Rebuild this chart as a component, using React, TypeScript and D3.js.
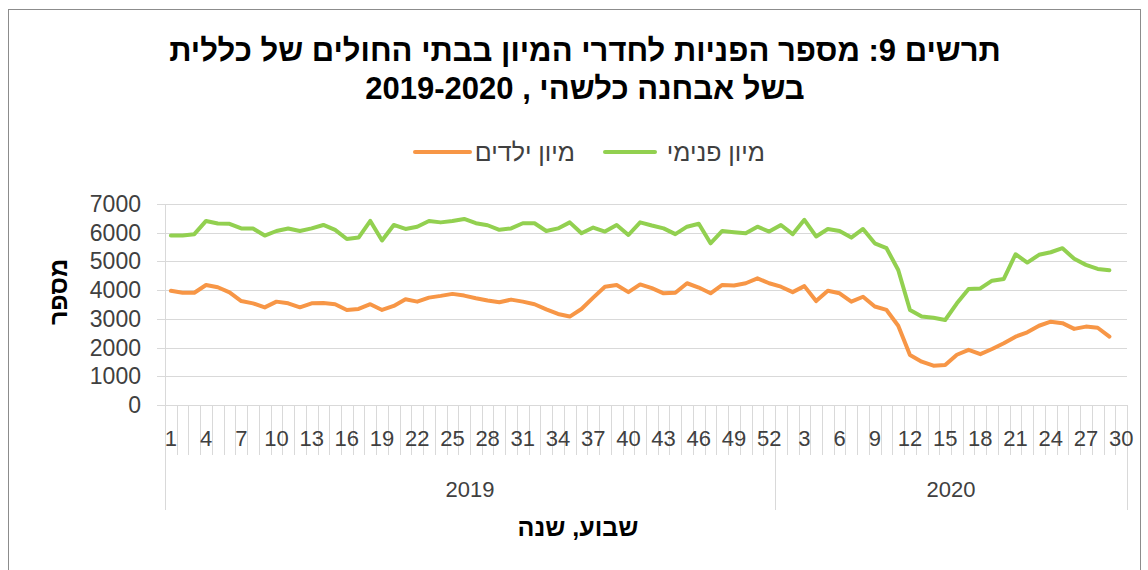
import * as d3 from 'd3';
import React, { useEffect, useRef } from 'react';

// weeks: 52 weeks of 2019 then 30 weeks of 2020
const weeks2019 = d3.range(1, 53);
const weeks2020 = d3.range(1, 31);
const years = ['2019', '2020'];

// מיון פנימי (green)
const internalER = [
  5900, 5900, 5950, 6410, 6320, 6310, 6150, 6145, 5900, 6060,
  6145, 6060, 6150, 6270, 6100, 5780, 5830, 6410, 5730, 6270,
  6130, 6210, 6410, 6360, 6410, 6480, 6330, 6260, 6100, 6150,
  6330, 6330, 6060, 6150, 6360, 5980, 6180, 6040, 6270, 5920,
  6360, 6250, 6150, 5950, 6210, 6310, 5630, 6060, 6020, 5980,
  6210, 6040,
  6270, 5950, 6450, 5870, 6130, 6060, 5830, 6130, 5630, 5460,
  4700, 3310, 3080, 3040, 2960, 3540, 4040, 4060, 4330, 4390,
  5250, 4960, 5230, 5320, 5460, 5090, 4880, 4740, 4690, null
];

// מיון ילדים (orange)
const childrenER = [
  3980, 3910, 3910, 4180, 4100, 3925, 3620, 3540, 3400, 3600,
  3540, 3400, 3540, 3550, 3510, 3310, 3345, 3510, 3310, 3450,
  3680, 3600, 3740, 3800, 3870, 3810, 3720, 3640, 3580, 3670,
  3600, 3510, 3330, 3170, 3080, 3345, 3740, 4120, 4180, 3930,
  4200, 4070, 3890, 3910, 4240, 4090, 3890, 4180, 4160, 4240,
  4410, 4240,
  4120, 3930, 4140, 3620, 3980, 3890, 3600, 3770, 3430, 3310,
  2760, 1740, 1510, 1370, 1390, 1750, 1920, 1770, 1950, 2150,
  2380, 2530, 2760, 2900, 2850, 2650, 2730, 2690, 2380, null
];

const yTicks = [0, 1000, 2000, 3000, 4000, 5000, 6000, 7000];

const FONT = '"Liberation Sans", Arial, sans-serif';

const App = () => {
  const ref = useRef<SVGSVGElement | null>(null);

  useEffect(() => {
    const width = 1148;
    const height = 570;
    const margin = { top: 204, right: 21, bottom: 165, left: 165 };

    const svg = d3.select(ref.current);
    svg.selectAll('*').remove();

    const categories = [
      ...weeks2019.map((w) => ({ key: '2019-' + w, week: w })),
      ...weeks2020.map((w) => ({ key: '2020-' + w, week: w }))
    ];

    const x = d3.scaleBand()
      .domain(categories.map((c) => c.key))
      .range([margin.left, width - margin.right])
      .paddingInner(0)
      .paddingOuter(0);

    const y = d3.scaleLinear()
      .domain([0, 7000])
      .range([height - margin.bottom, margin.top]);

    const bw = x.bandwidth();
    const xc = (i: number) => (x(categories[i].key) as number) + bw / 2;

    // frame
    svg.append('rect')
      .attr('x', 8.5).attr('y', 9.5)
      .attr('width', 1132).attr('height', 600)
      .attr('fill', '#fff')
      .attr('stroke', '#8c8c8c');

    // title
    const title = svg.append('text')
      .attr('x', 585)
      .attr('text-anchor', 'middle')
      .attr('direction', 'rtl')
      .style('font-family', FONT)
      .style('font-weight', 'bold')
      .style('font-size', '31px')
      .attr('fill', '#000');
    title.append('tspan').attr('x', 585).attr('y', 61)
      .text('תרשים 9: מספר הפניות לחדרי המיון בבתי החולים של כללית');
    title.append('tspan').attr('x', 585).attr('y', 99)
      .text('בשל אבחנה כלשהי , 2019-2020');

    // legend
    const legend = [
      { label: 'מיון פנימי', color: '#92D050', x1: 605, x2: 655, tx: 765 },
      { label: 'מיון ילדים', color: '#F79646', x1: 415, x2: 470, tx: 575 }
    ];
    legend.forEach((l) => {
      svg.append('line')
        .attr('x1', l.x1).attr('x2', l.x2)
        .attr('y1', 152).attr('y2', 152)
        .attr('stroke', l.color).attr('stroke-width', 4)
        .attr('stroke-linecap', 'round');
      svg.append('text')
        .attr('x', l.tx).attr('y', 161)
        .attr('text-anchor', 'start')
        .attr('direction', 'rtl')
        .style('font-family', FONT)
        .style('font-size', '25px')
        .attr('fill', '#404040')
        .text(l.label);
    });

    // gridlines + y labels
    yTicks.forEach((t) => {
      svg.append('line')
        .attr('x1', margin.left - 8).attr('x2', width - margin.right)
        .attr('y1', Math.round(y(t)) + 0.5).attr('y2', Math.round(y(t)) + 0.5)
        .attr('stroke', '#d9d9d9').attr('stroke-width', 1);
      svg.append('text')
        .attr('x', 141).attr('y', y(t) + 8)
        .attr('text-anchor', 'end')
        .style('font-family', FONT)
        .style('font-size', '23px')
        .attr('fill', '#404040')
        .text(t);
    });

    // y axis line
    svg.append('line')
      .attr('x1', margin.left + 0.5).attr('x2', margin.left + 0.5)
      .attr('y1', margin.top).attr('y2', y(0))
      .attr('stroke', '#d9d9d9');

    // category ticks
    const y0 = y(0);
    categories.forEach((c, i) => {
      const bx = Math.round(x(c.key) as number) + 0.5;
      const isGroup = i === 0 || i === weeks2019.length;
      svg.append('line')
        .attr('x1', bx).attr('x2', bx)
        .attr('y1', y0).attr('y2', isGroup ? 510 : 455)
        .attr('stroke', '#d9d9d9');
    });
    const rx = Math.round(width - margin.right) + 0.5;
    svg.append('line')
      .attr('x1', rx).attr('x2', rx)
      .attr('y1', y0).attr('y2', 510)
      .attr('stroke', '#d9d9d9');

    // week labels every 3rd category
    categories.forEach((c, i) => {
      if (i % 3 !== 0) return;
      svg.append('text')
        .attr('x', xc(i)).attr('y', 446)
        .attr('text-anchor', 'middle')
        .style('font-family', FONT)
        .style('font-size', '22px')
        .attr('fill', '#404040')
        .text(c.week);
    });

    // year labels
    const yearSpans = [
      [0, weeks2019.length],
      [weeks2019.length, categories.length]
    ];
    yearSpans.forEach(([a, b], i) => {
      const xa = x(categories[a].key) as number;
      const xb = (x(categories[b - 1].key) as number) + bw;
      svg.append('text')
        .attr('x', (xa + xb) / 2).attr('y', 497)
        .attr('text-anchor', 'middle')
        .style('font-family', FONT)
        .style('font-size', '22px')
        .attr('fill', '#404040')
        .text(years[i]);
    });

    // axis titles
    svg.append('text')
      .attr('x', 578).attr('y', 536)
      .attr('text-anchor', 'middle')
      .attr('direction', 'rtl')
      .style('font-family', FONT)
      .style('font-weight', 'bold')
      .style('font-size', '25px')
      .attr('fill', '#000')
      .text('שבוע, שנה');
    svg.append('text')
      .attr('transform', 'translate(67,292) rotate(-90)')
      .attr('text-anchor', 'middle')
      .attr('direction', 'rtl')
      .style('font-family', FONT)
      .style('font-weight', 'bold')
      .style('font-size', '25px')
      .attr('fill', '#000')
      .text('מספר');

    // lines
    const line = d3.line<number | null>()
      .defined((d) => d !== null)
      .x((d, i) => xc(i))
      .y((d) => y(d as number));

    [
      { values: childrenER, color: '#F79646' },
      { values: internalER, color: '#92D050' }
    ].forEach((s) => {
      svg.append('path')
        .datum(s.values)
        .attr('fill', 'none')
        .attr('stroke', s.color)
        .attr('stroke-width', 4)
        .attr('stroke-linejoin', 'round')
        .attr('stroke-linecap', 'round')
        .attr('d', line);
    });
  }, []);

  return (
    <svg
      ref={ref}
      width={1148}
      height={570}
      style={{ position: 'absolute', left: 0, top: 0, background: '#fff' }}
    />
  );
};

export default App;
